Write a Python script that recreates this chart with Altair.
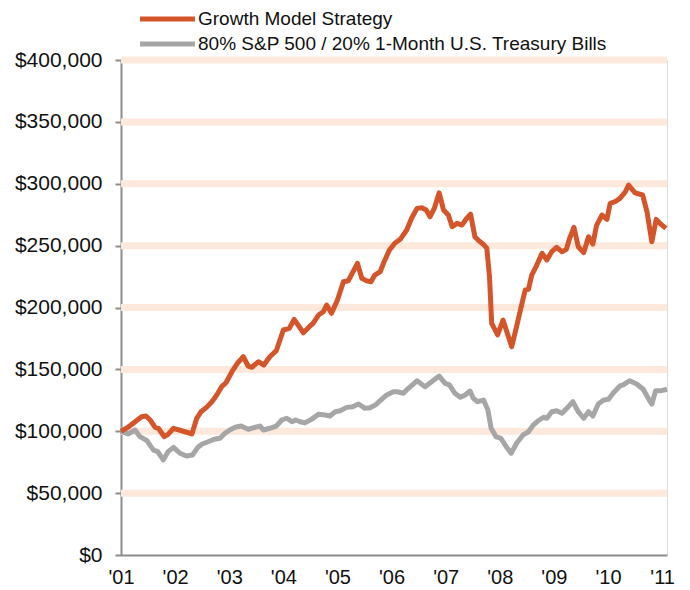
import altair as alt
import pandas as pd

FONT = "Liberation Sans, Arial, Helvetica, sans-serif"

series_names = ["Growth Model Strategy", "80% S&P 500 / 20% 1-Month U.S. Treasury Bills"]
series_colors = ["#D5552B", "#A6A6A6"]

growth_years = [2001.00, 2001.13, 2001.26, 2001.38, 2001.46, 2001.54, 2001.63, 2001.69, 2001.80, 2001.87,
                2001.97, 2002.12, 2002.31, 2002.40, 2002.48, 2002.58, 2002.68, 2002.77, 2002.86, 2002.94,
                2003.05, 2003.16, 2003.26, 2003.35, 2003.42, 2003.54, 2003.64, 2003.75, 2003.87, 2004.00,
                2004.11, 2004.20, 2004.37, 2004.48, 2004.55, 2004.65, 2004.74, 2004.80, 2004.89, 2005.00,
                2005.11, 2005.20, 2005.37, 2005.45, 2005.54, 2005.62, 2005.69, 2005.79, 2005.85, 2005.96,
                2006.06, 2006.16, 2006.28, 2006.37, 2006.47, 2006.56, 2006.64, 2006.71, 2006.79, 2006.88,
                2006.96, 2007.05, 2007.12, 2007.21, 2007.30, 2007.38, 2007.46, 2007.54, 2007.60, 2007.71,
                2007.76, 2007.81, 2007.85, 2007.96, 2008.06, 2008.13, 2008.22, 2008.31, 2008.41, 2008.47,
                2008.53, 2008.59, 2008.67, 2008.78, 2008.87, 2008.96, 2009.05, 2009.15, 2009.23, 2009.29,
                2009.37, 2009.45, 2009.55, 2009.64, 2009.72, 2009.79, 2009.89, 2009.98, 2010.04, 2010.13,
                2010.22, 2010.32, 2010.38, 2010.50, 2010.64, 2010.72, 2010.81, 2010.89, 2010.96, 2011.07]
# thousands of dollars
growth_values = [100.0, 103.2, 107.7, 111.7, 112.3, 109.1, 103.2, 102.4, 95.6, 97.5,
                 102.4, 100.4, 97.8, 110.5, 115.8, 119.3, 123.9, 129.3, 136.0, 139.2,
                 148.1, 155.4, 160.2, 152.7, 151.7, 156.2, 153.5, 160.2, 165.1, 181.8,
                 183.2, 190.4, 179.6, 184.5, 187.2, 193.9, 196.6, 202.0, 195.3, 206.0,
                 220.8, 221.6, 235.7, 223.6, 221.5, 220.8, 226.2, 228.9, 235.7, 246.4,
                 251.9, 255.1, 262.6, 272.1, 280.1, 280.6, 278.8, 273.3, 280.1, 292.7,
                 278.8, 274.7, 265.3, 268.0, 266.6, 271.5, 275.5, 257.2, 254.5, 250.5,
                 247.8, 224.9, 187.2, 177.8, 189.9, 180.4, 168.3, 184.5, 203.4, 214.1,
                 214.7, 226.2, 233.0, 243.8, 238.4, 245.1, 248.6, 245.1, 247.0, 255.9,
                 264.8, 249.1, 244.3, 257.2, 251.3, 266.6, 274.7, 271.2, 284.2, 285.5,
                 288.2, 293.5, 299.0, 292.7, 290.9, 277.4, 253.1, 271.2, 268.0, 264.0]

bench_years = [2001.00, 2001.13, 2001.26, 2001.35, 2001.48, 2001.60, 2001.68, 2001.78, 2001.87, 2001.97,
               2002.09, 2002.21, 2002.32, 2002.42, 2002.50, 2002.61, 2002.72, 2002.83, 2002.92, 2003.01,
               2003.11, 2003.22, 2003.35, 2003.48, 2003.57, 2003.63, 2003.75, 2003.87, 2003.97, 2004.06,
               2004.16, 2004.23, 2004.31, 2004.40, 2004.52, 2004.65, 2004.77, 2004.86, 2004.96, 2005.05,
               2005.17, 2005.28, 2005.39, 2005.51, 2005.60, 2005.70, 2005.79, 2005.91, 2006.03, 2006.10,
               2006.22, 2006.31, 2006.47, 2006.62, 2006.74, 2006.88, 2006.99, 2007.07, 2007.17, 2007.27,
               2007.36, 2007.45, 2007.51, 2007.59, 2007.70, 2007.78, 2007.84, 2007.93, 2008.02, 2008.12,
               2008.21, 2008.31, 2008.43, 2008.53, 2008.62, 2008.71, 2008.81, 2008.87, 2008.96, 2009.05,
               2009.15, 2009.24, 2009.35, 2009.45, 2009.55, 2009.64, 2009.72, 2009.82, 2009.92, 2010.01,
               2010.10, 2010.22, 2010.28, 2010.40, 2010.53, 2010.65, 2010.78, 2010.81, 2010.88, 2010.99,
               2011.09]
bench_values = [100.0, 97.8, 101.0, 95.6, 92.4, 84.8, 83.5, 76.8, 83.5, 87.0,
                82.2, 80.0, 80.8, 87.0, 89.7, 91.5, 93.5, 94.3, 98.3, 101.0,
                103.2, 104.2, 101.6, 103.2, 104.2, 101.0, 102.4, 104.2, 109.1, 110.5,
                107.7, 109.1, 107.7, 106.9, 109.6, 113.7, 113.1, 112.3, 115.8, 116.6,
                119.3, 119.8, 122.0, 118.5, 119.0, 121.2, 124.7, 129.3, 131.9, 131.9,
                130.7, 134.7, 140.8, 136.0, 140.0, 144.6, 138.7, 137.4, 130.7, 127.4,
                129.3, 132.5, 126.6, 123.9, 125.2, 117.2, 102.4, 95.6, 94.3, 87.5,
                82.2, 90.3, 97.0, 99.6, 105.0, 108.5, 111.3, 110.5, 115.8, 116.6,
                114.5, 118.5, 123.9, 115.8, 110.5, 115.8, 112.3, 122.0, 125.2, 125.8,
                131.1, 136.6, 137.4, 140.8, 138.2, 133.9, 123.9, 122.0, 132.8, 132.8,
                133.9]

y_ticks = [0, 50000, 100000, 150000, 200000, 250000, 300000, 350000, 400000]
x_ticks = list(range(2001, 2012))
grid_values = y_ticks[1:]

growth_df = pd.DataFrame({"year": growth_years, "value": [v * 1000 for v in growth_values]})
bench_df = pd.DataFrame({"year": bench_years, "value": [v * 1000 for v in bench_values]})
grid_df = pd.DataFrame({"value": grid_values})

x_enc = alt.X(
    "year:Q",
    scale=alt.Scale(domain=[2001, 2011.09], nice=False, zero=False),
    axis=alt.Axis(values=x_ticks, labelExpr="\"'\" + substring(toString(datum.value), 2)",
                  title=None, ticks=False, grid=False, labelFlush=False,
                  domainColor="#8C8C8C", domainWidth=2, labelFontSize=20, labelPadding=12,
                  labelColor="#111111", labelFont=FONT),
)
y_enc = alt.Y(
    "value:Q",
    scale=alt.Scale(domain=[0, 400000], nice=False),
    axis=alt.Axis(values=y_ticks, format="$,.0f", title=None, grid=False,
                  tickSize=6, tickWidth=2, tickColor="#8C8C8C",
                  domainColor="#8C8C8C", domainWidth=2, labelFontSize=21, labelPadding=13,
                  labelColor="#111111", labelFont=FONT),
)

grid = alt.Chart(grid_df).mark_rule(color="#FDE9DB", strokeWidth=7).encode(y=y_enc)

bench_line = alt.Chart(bench_df).mark_line(color=series_colors[1], strokeWidth=5, strokeJoin="round").encode(
    x=x_enc, y=y_enc)
growth_line = alt.Chart(growth_df).mark_line(color=series_colors[0], strokeWidth=5, strokeJoin="round").encode(
    x=x_enc, y=y_enc)

legend_layers = []
for i, (name, col) in enumerate(zip(series_names, series_colors)):
    row_y = -41 + 25 * i
    ldf = pd.DataFrame({"label": [name]})
    legend_layers.append(
        alt.Chart(ldf).mark_rule(color=col, strokeWidth=5).encode(
            x=alt.value(19), x2=alt.value(74), y=alt.value(row_y))
    )
    legend_layers.append(
        alt.Chart(ldf).mark_text(align="left", baseline="middle", fontSize=19, font=FONT, color="#111111").encode(
            x=alt.value(77), y=alt.value(row_y), text="label:N")
    )

chart = alt.layer(grid, bench_line, growth_line, *legend_layers).properties(
    width=546,
    height=495,
    padding={"left": 113, "top": 52, "right": 15, "bottom": 32},
    autosize=alt.AutoSizeParams(type="none"),
).configure_view(stroke=None).configure(font=FONT)

chart.save("out.html", embed_options={"renderer": "svg", "actions": False})
